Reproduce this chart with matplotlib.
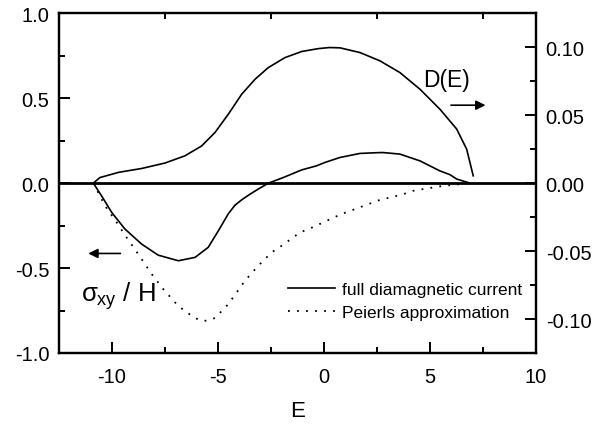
import matplotlib
matplotlib.use("Agg")
import matplotlib.pyplot as plt
from matplotlib.ticker import MultipleLocator

plt.rcParams['font.family'] = ['Liberation Sans', 'DejaVu Sans']
plt.rcParams['mathtext.fontset'] = 'custom'
plt.rcParams['mathtext.rm'] = 'Liberation Sans'
plt.rcParams['mathtext.it'] = 'Liberation Sans'
plt.rcParams['axes.unicode_minus'] = False

# D(E) density of states (right axis)
E_dos = [-10.88, -10.57, -9.70, -8.60, -7.50, -6.56, -5.77, -5.14, -4.51,
         -3.88, -3.25, -2.63, -1.84, -1.05, -0.27, 0.25, 0.75, 1.70, 2.64,
         3.58, 4.53, 5.47, 6.26, 6.73, 7.04]
dos = [0.0, 0.0041, 0.0079, 0.0108, 0.0148, 0.0201, 0.0274, 0.0373, 0.0508,
       0.0655, 0.0765, 0.0850, 0.0924, 0.0969, 0.0990, 0.0998, 0.0996, 0.0961,
       0.0900, 0.0814, 0.0691, 0.0544, 0.0398, 0.0250, 0.0054]

# sigma_xy / H, full diamagnetic current (left axis)
E_full = [-10.88, -10.49, -10.01, -9.39, -8.60, -7.82, -6.87, -6.08, -5.46,
          -4.98, -4.51, -4.20, -3.88, -3.49, -3.10, -2.62, -1.92, -1.05, -0.35,
          0.05, 0.75, 1.70, 2.64, 2.80, 3.58, 4.53, 5.47, 5.94, 6.26, 6.89]
sig_full = [0.0, -0.075, -0.173, -0.270, -0.359, -0.424, -0.457, -0.437,
            -0.378, -0.280, -0.180, -0.130, -0.098, -0.065, -0.035, 0.0, 0.033,
            0.078, 0.102, 0.122, 0.151, 0.175, 0.180, 0.180, 0.171, 0.131,
            0.072, 0.050, 0.024, 0.0]

# sigma_xy / H, Peierls approximation (left axis)
E_peierls = [-10.88, -10.33, -9.78, -9.31, -8.76, -8.13, -7.58, -7.03, -6.56,
             -5.85, -5.53, -5.14, -4.51, -3.73, -3.10, -2.47, -2.00, -1.13,
             -0.66, 0.75, 2.17, 2.49, 3.74, 4.21, 5.31, 5.63, 6.26, 6.97]
sig_peierls = [0.0, -0.133, -0.231, -0.320, -0.418, -0.535, -0.624, -0.702,
               -0.755, -0.810, -0.810, -0.794, -0.712, -0.575, -0.486, -0.408,
               -0.369, -0.290, -0.267, -0.186, -0.120, -0.104, -0.065, -0.045,
               -0.022, -0.016, -0.008, 0.0]

legend_labels = ['full diamagnetic current', 'Peierls approximation']

fig = plt.figure(figsize=(5.97, 4.27), dpi=100)
ax = fig.add_axes([0.0988, 0.171, 0.799, 0.7955])
ax2 = ax.twinx()

l1, = ax.plot(E_full, sig_full, color='black', lw=1.2)
l2, = ax.plot(E_peierls, sig_peierls, color='black', lw=1.3, linestyle=(0, (1, 4)))
ax.axhline(0, color='black', lw=2)
ax2.plot(E_dos, dos, color='black', lw=1.2)

ax.set_xlim(-12.5, 10)
ax.set_ylim(-1.0, 1.0)
ax2.set_ylim(-0.125, 0.125)

ax.xaxis.set_major_locator(MultipleLocator(5))
ax.xaxis.set_minor_locator(MultipleLocator(2.5))
ax.yaxis.set_major_locator(MultipleLocator(0.5))
ax.yaxis.set_minor_locator(MultipleLocator(0.25))
ax2.yaxis.set_major_locator(MultipleLocator(0.05))
ax2.yaxis.set_minor_locator(MultipleLocator(0.025))

ax.yaxis.set_major_formatter(plt.FuncFormatter(lambda v, p: f"{v:.1f}"))
ax2.yaxis.set_major_formatter(plt.FuncFormatter(lambda v, p: f"{v:.2f}"))

for a in (ax, ax2):
    for s in a.spines.values():
        s.set_linewidth(1.6)

ax.tick_params(axis='x', which='major', direction='in', length=8, width=1.4,
               labelsize=14.5, pad=10, top=False)
ax.tick_params(axis='x', which='minor', direction='in', length=4, width=1.4, top=True)
ax.tick_params(axis='y', which='major', direction='in', length=8, width=1.4,
               labelsize=14.5, pad=7, right=False)
ax.tick_params(axis='y', which='minor', direction='in', length=4, width=1.4, right=False)
ax2.tick_params(axis='y', which='major', direction='in', length=8, width=1.4,
                labelsize=14.5, pad=7)
ax2.tick_params(axis='y', which='minor', direction='in', length=4, width=1.4)

ax.set_xlabel('E', fontsize=16, labelpad=10)

ax.text(5.78, 0.61, 'D(E)', fontsize=16.5, ha='center', va='center')
ax.annotate('', xy=(7.75, 0.459), xytext=(5.86, 0.459),
            arrowprops=dict(arrowstyle='-|>', color='black', lw=1.2, mutation_scale=14))
ax.annotate('', xy=(-11.25, -0.414), xytext=(-9.47, -0.414),
            arrowprops=dict(arrowstyle='-|>', color='black', lw=1.2, mutation_scale=14))
ax.text(-11.44, -0.69, r'$\sigma_{xy}$ / H', fontsize=18.5, ha='left', va='baseline')

ax.legend([l1, l2], legend_labels, frameon=False, loc='upper left',
          bbox_to_anchor=(0.48, 0.21), borderaxespad=0, borderpad=0,
          fontsize=12.5, handlelength=2.7, handletextpad=0.4, labelspacing=0.45)

fig.savefig('out.png', dpi=100)
